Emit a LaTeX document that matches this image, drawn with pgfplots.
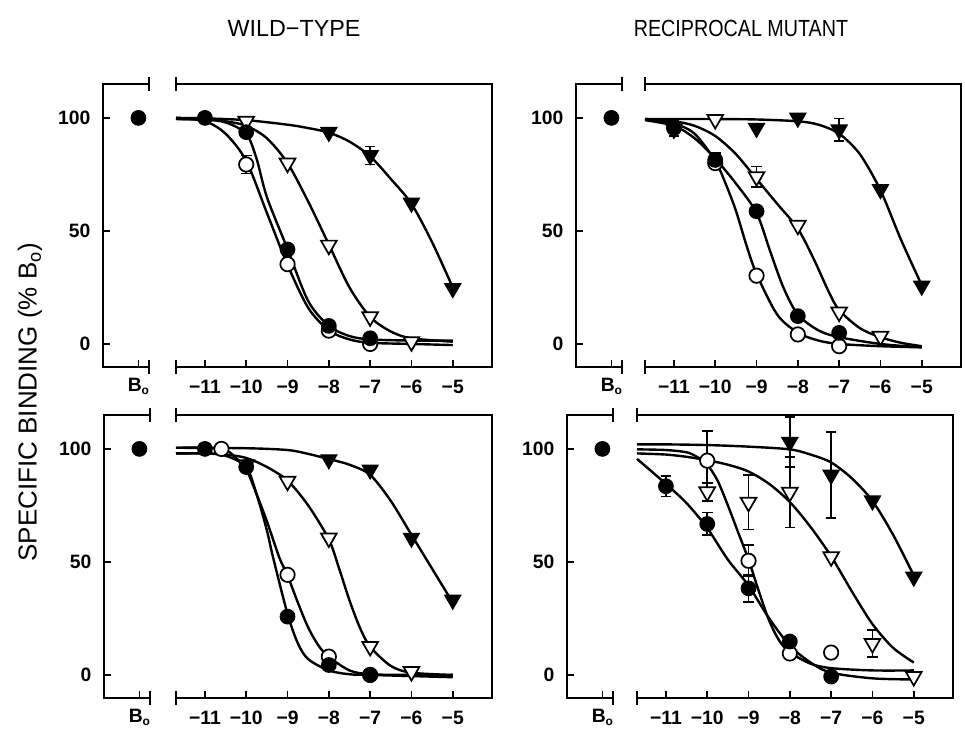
\documentclass[border=0pt]{standalone}
\usepackage{fontspec}
\setmainfont{Liberation Sans}
\newfontfamily\titlefont[FakeStretch=0.845]{Liberation Sans}
\usepackage{pgfplots}
\pgfplotsset{compat=1.18}
\newcommand\lab{\bfseries\fontsize{14.5}{16}\selectfont}
\pgfplotsset{
  panel/.style={scale only axis, height=212.25pt, ymin=-10.2, ymax=115, clip=false,
    axis line style={draw=none}, axis x line*=bottom, axis y line*=left,
    tick style={line width=1.3pt, black}, major tick length=5pt, tick align=inside,
    ticklabel style={font=\lab}, xticklabel style={yshift=-6pt}, yticklabel style={xshift=-6pt}},
  mainax/.style={panel, width=237pt, xmin=-11.7, xmax=-4.05, xtick={-11,-10,-9,-8,-7,-6,-5},
    xticklabels={−11,−10,−9,−8,−7,−6,−5}, ytick=\empty,
    extra description/.code={
      \draw[line width=1.4pt] (rel axis cs:0,1) -- (rel axis cs:1,1) -- (rel axis cs:1,0) -- (rel axis cs:0,0);
      \draw[line width=1.4pt] ([yshift=-5pt]rel axis cs:0,1) -- ([yshift=5pt]rel axis cs:0,1);
      \draw[line width=1.4pt] ([yshift=-5pt]rel axis cs:0,0) -- ([yshift=5pt]rel axis cs:0,0);
    }},
  bax/.style={panel, width=34.5pt, xmin=0, xmax=1, xtick={0.77},
    xticklabels={B\raisebox{-0.3ex}{\fontsize{9}{10}\selectfont o}},
    xticklabel style={yshift=1pt},
    ytick={0,50,100}, yticklabels={0,50,100},
    extra description/.code={
      \draw[line width=1.4pt] (rel axis cs:1,1) -- (rel axis cs:0,1) -- (rel axis cs:0,0) -- (rel axis cs:1,0);
      \draw[line width=1.4pt] ([yshift=-5pt]rel axis cs:1,1) -- ([yshift=5pt]rel axis cs:1,1);
      \draw[line width=1.4pt] ([yshift=-5pt]rel axis cs:1,0) -- ([yshift=5pt]rel axis cs:1,0);
    }},
  curve/.style={no marks, smooth, line width=1.8pt, black},
  fc/.style={only marks, mark=*, mark size=5.4pt, mark options={fill=black, draw=black, line width=1pt}},
  oc/.style={only marks, mark=*, mark size=5.4pt, mark options={fill=white, draw=black, line width=1.3pt}},
  ot/.style={only marks, mark=triangle*, mark size=6.8pt, mark options={rotate=180, fill=white, draw=black, line width=1.3pt}},
  ft/.style={only marks, mark=triangle*, mark size=6.8pt, mark options={rotate=180, fill=black, draw=black, line width=1pt}},
  eb/.style={draw=none, mark=none, error bars/.cd, y dir=both, y explicit,
    error bar style={draw=black, line width=1.2pt},
    error mark options={draw=black, rotate=90, mark size=4pt, line width=1.2pt}},
}
\begin{document}
\begin{tikzpicture}
\path[use as bounding box] (0,0) rectangle (723.75pt,546.75pt);
% titles
\node[font=\fontsize{17.5}{20}\selectfont] at (220.5pt,525.75pt) {WILD−TYPE};
\node[font=\titlefont\fontsize{17.5}{20}\selectfont] at (555.75pt,525.75pt) {RECIPROCAL MUTANT};
\node[rotate=90, font=\fontsize{19.5}{22}\selectfont] at (22.5pt,245pt) {SPECIFIC BINDING (\% B\textsubscript{o})};

% ================= TOP LEFT =================
\begin{axis}[bax, at={(77.25pt,271.5pt)}, anchor=south west]
\addplot[fc] coordinates {(0.77,100)};
\end{axis}
\begin{axis}[mainax, at={(132pt,271.5pt)}, anchor=south west]
\addplot[curve] coordinates {(-11.7,100)(-11,98.5)(-10.5,93)(-10,81)(-9.5,58)(-9,35)(-8.5,16)(-8,6)(-7.5,2)(-7,0.5)(-6,0)(-5,-0.5)};
\addplot[curve] coordinates {(-11.7,99.5)(-11,99.3)(-10.5,98)(-10,93)(-9.75,82)(-9.5,65)(-9,42)(-8.5,19)(-8,8)(-7.5,3.5)(-7,2)(-6,1.5)(-5,1.5)};
\addplot[curve] coordinates {(-11.7,99.5)(-11,99.3)(-10.5,98.5)(-10,96.5)(-9.5,91)(-9,80)(-8.5,63)(-8,44)(-7.5,25)(-7,12)(-6.5,5.5)(-6,2.5)(-5,1)};
\addplot[curve] coordinates {(-11.7,100)(-11,99.8)(-10,99)(-9,97)(-8.5,95.5)(-8,93.5)(-7.5,89.5)(-7,83)(-6.5,73)(-6,62)(-5.5,45)(-5,25)};
\addplot[eb] coordinates {(-10,79.4) +- (0,4) (-7,83.4) +- (0,4)};
\addplot[oc] coordinates {(-10,79.4)(-9,35.3)(-8,5.9)(-7,0)};
\addplot[ot] coordinates {(-10,98.5)(-9,80)(-8,43.7)(-7,12)(-6,1)};
\addplot[fc] coordinates {(-11,100)(-10,93.7)(-9,41.8)(-8,8)(-7,2.5)};
\addplot[ft] coordinates {(-8,93.7)(-7,83.4)(-6,62.4)(-5,24.6)};
\end{axis}

% ================= TOP RIGHT =================
\begin{axis}[bax, at={(432pt,271.5pt)}, anchor=south west]
\addplot[fc] coordinates {(0.77,100)};
\end{axis}
\begin{axis}[mainax, at={(483.75pt,271.5pt)}, anchor=south west]
\addplot[curve] coordinates {(-11.7,99.5)(-11,97.5)(-10.5,93)(-10,81)(-9.75,71)(-9.5,59)(-9.25,44)(-9,31)(-8.5,13)(-8,5)(-7.5,1.5)(-7,0)(-6,-1)(-5,-1.5)};
\addplot[curve] coordinates {(-11.7,99)(-11,96.5)(-10.5,91)(-10,82)(-9.5,71)(-9,58)(-8.67,41)(-8.35,25)(-8,13)(-7.5,6)(-7,3)(-6,0)(-5,-1.5)};
\addplot[curve] coordinates {(-11.7,99.5)(-11,98.5)(-10.5,96.5)(-10,92)(-9.5,84)(-9,73)(-8.5,62)(-8,51)(-7.6,37)(-7.25,23)(-7,15)(-6.5,7)(-6,3)(-5.5,0.5)(-5,-1)};
\addplot[curve] coordinates {(-11.7,99.5)(-10,99.5)(-9,99.3)(-8,98.5)(-7.5,97)(-7,93)(-6.5,84)(-6,68)(-5.5,46)(-5,26)};
\addplot[eb] coordinates {(-11,95.5) +- (0,3.5) (-10,81.4) +- (0,3) (-9,74) +- (0,4.5) (-7,94.8) +- (0,5)};
\addplot[oc] coordinates {(-10,80)(-9,30.2)(-8,4.2)(-7,-1)};
\addplot[ot] coordinates {(-10,99.3)(-9,74)(-8,52.5)(-7,14.1)(-6,3.4)};
\addplot[fc] coordinates {(-11,95.5)(-10,81.4)(-9,58.7)(-8,12.3)(-7,4.9)};
\addplot[ft] coordinates {(-11,95)(-9,95.5)(-8,100)(-7,94.8)(-6,68.4)(-5,25.7)};
\end{axis}

% ================= BOTTOM LEFT =================
\begin{axis}[bax, at={(78pt,23.25pt)}, anchor=south west]
\addplot[fc] coordinates {(0.77,100)};
\end{axis}
\begin{axis}[mainax, at={(132pt,23.25pt)}, anchor=south west]
\addplot[curve] coordinates {(-11.7,98)(-11,98)(-10.5,97)(-10,92)(-9.75,80)(-9.5,64)(-9.35,52)(-9,27)(-8.75,14)(-8.5,7)(-8,2)(-7.5,0.3)(-7,0)(-6,-0.5)(-5,-1)};
\addplot[curve] coordinates {(-11.7,100.5)(-11,100.5)(-10.5,99.5)(-10.25,96)(-10,91)(-9.75,80)(-9.5,68)(-9.2,52)(-9,44)(-8.75,32)(-8.5,21)(-8.25,13)(-8,8)(-7.5,2)(-7,0.3)(-6,0)(-5,0)};
\addplot[curve] coordinates {(-11.7,98)(-11,98)(-10.5,97.5)(-10,96)(-9.5,92)(-9,86)(-8.5,75)(-8,60)(-7.75,47)(-7.5,33)(-7.25,21)(-7,12.5)(-6.5,4)(-6,1)(-5,0)};
\addplot[curve] coordinates {(-11.7,100.5)(-10,100.3)(-9,99.5)(-8.5,97.8)(-8,95.5)(-7.5,93)(-7,88.5)(-6.5,77)(-6,62)(-5.5,47)(-5,32)};
\addplot[oc] coordinates {(-10.6,100)(-9,44.3)(-8,8.1)(-7,0)};
\addplot[ot] coordinates {(-10,93)(-9,85.7)(-8,60.6)(-7,12.6)(-6,1.5)};
\addplot[fc] coordinates {(-11,100)(-10,92)(-9,25.8)(-8,4.4)(-7,0)};
\addplot[ft] coordinates {(-8,95.3)(-7,90.8)(-6,60.6)(-5,33.2)};
\end{axis}

% ================= BOTTOM RIGHT =================
\begin{axis}[bax, at={(425.25pt,23.25pt)}, anchor=south west]
\addplot[fc] coordinates {(0.77,100)};
\end{axis}
\begin{axis}[mainax, at={(477.75pt,23.25pt)}, anchor=south west]
\addplot[curve] coordinates {(-11.7,95.6)(-11,84.5)(-10.5,76)(-10,65)(-9.5,51)(-9,39.5)(-8.5,25)(-8,13)(-7.5,5.5)(-7,1)(-6,-1.5)(-5,-2)};
\addplot[curve] coordinates {(-11.7,99.8)(-11,99.5)(-10.5,98.5)(-10.25,96.5)(-10,93)(-9.75,86)(-9.5,75)(-9.25,63)(-9,51)(-8.75,37)(-8.5,24)(-8.25,15)(-8,10)(-7.5,5)(-7,3)(-6,2)(-5,2)};
\addplot[curve] coordinates {(-11.7,98)(-11,97.5)(-10.5,96.5)(-10,95)(-9.5,93)(-9,90)(-8.5,84.5)(-8,76.5)(-7.5,65.5)(-7,52.5)(-6.5,37)(-6,22.5)(-5.5,12)(-5,5.5)};
\addplot[curve] coordinates {(-11.7,102)(-11,102)(-10,101.7)(-9,101)(-8,99.8)(-7.5,97.5)(-7,94)(-6.5,87)(-6,77)(-5.5,62)(-5,44)};
\addplot[eb] coordinates {(-11,83.5) +- (0,4.6) (-10,66.8) +- (0,5) (-9,38.3) +- (0,6) (-10,94.8) +- (0,13) (-9,50.5) +- (0,7) (-10,81) +- (0,4) (-9,76.4) +- (0,12) (-8,80.8) +- (0,15.5) (-6,13.9) +- (0,6) (-8,103) +- (0,11) (-7,88.5) +- (0,19)};
\addplot[oc] coordinates {(-10,94.8)(-9,50.5)(-8,9.5)(-7,9.9)};
\addplot[ot] coordinates {(-10,81)(-9,76.4)(-8,80.8)(-7,52.3)(-6,13.9)(-5,-0.7)};
\addplot[fc] coordinates {(-11,83.5)(-10,66.8)(-9,38.3)(-8,14.8)(-7,-0.7)};
\addplot[ft] coordinates {(-8,103)(-7,88.5)(-6,77.1)(-5,43.4)};
\end{axis}
\end{tikzpicture}
\end{document}
